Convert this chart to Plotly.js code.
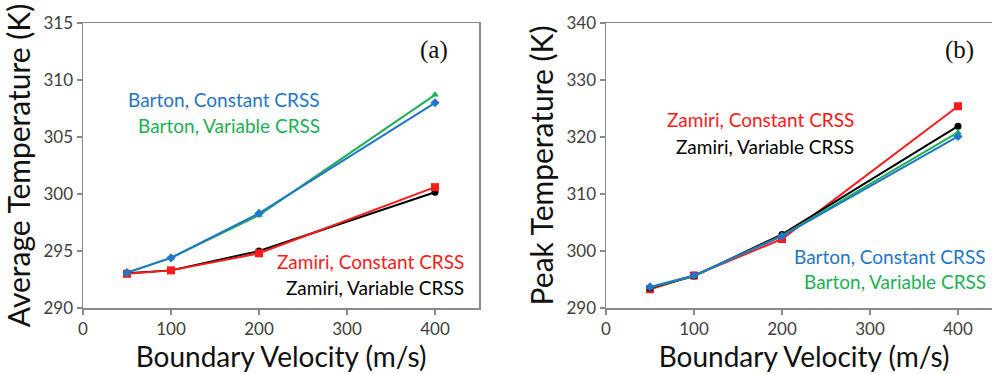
<!DOCTYPE html>
<html>
<head>
<meta charset="utf-8">
<script src="https://cdn.plot.ly/plotly-3.0.1.min.js"></script>
<style>
html,body{margin:0;padding:0;overflow:hidden;background:#fff;width:992px;height:374px;}
#chart{width:1010px;height:374px;}
</style>
</head>
<body>
<div id="chart"></div>
<script>
// Shared x values: boundary velocity (m/s)
const velocity = [50, 100, 200, 400];

// (a) Average temperature (K)
const avgBartonConst = [293.1, 294.4, 298.3, 308.0];
const avgBartonVar   = [293.1, 294.4, 298.15, 308.7];
const avgZamiriConst = [293.0, 293.3, 294.8, 300.6];
const avgZamiriVar   = [293.05, 293.3, 295.0, 300.15];

// (b) Peak temperature (K)
const peakBartonConst = [293.7, 295.7, 302.6, 320.1];
const peakBartonVar   = [293.6, 295.6, 302.7, 320.8];
const peakZamiriConst = [293.3, 295.7, 302.1, 325.4];
const peakZamiriVar   = [293.5, 295.6, 302.9, 321.9];

const seriesNames = ["Barton, Constant CRSS", "Barton, Variable CRSS", "Zamiri, Constant CRSS", "Zamiri, Variable CRSS"];
const seriesColors = ["#1F77C9", "#1DB154", "#FF1A1A", "#000000"];
const seriesSymbols = ["diamond", "triangle-up", "square", "circle"];

const xTicks = [0, 100, 200, 300, 400];
const yTicksA = [290, 295, 300, 305, 310, 315];
const yTicksB = [290, 300, 310, 320, 330, 340];

const W = 1010;
const font = "Lato, 'Open Sans', sans-serif";

function mk(y, i, xa, ya) {
  return {
    x: velocity, y: y, xaxis: xa, yaxis: ya, type: "scatter", mode: "lines+markers",
    name: seriesNames[i], showlegend: false,
    line: {color: seriesColors[i], width: 2},
    marker: {color: seriesColors[i], symbol: seriesSymbols[i], size: i === 2 ? 8 : 7}
  };
}

const traces = [
  mk(avgZamiriVar, 3, "x", "y"),
  mk(avgZamiriConst, 2, "x", "y"),
  mk(avgBartonVar, 1, "x", "y"),
  mk(avgBartonConst, 0, "x", "y"),
  mk(peakZamiriConst, 2, "x2", "y2"),
  mk(peakZamiriVar, 3, "x2", "y2"),
  mk(peakBartonVar, 1, "x2", "y2"),
  mk(peakBartonConst, 0, "x2", "y2")
];

const axisCommon = {
  showgrid: false, zeroline: false, showline: true, linecolor: "#8a8a8a", linewidth: 1.5,
  mirror: true, ticks: "outside", ticklen: 5, tickcolor: "#8a8a8a", tickwidth: 1.5,
  tickfont: {family: font, size: 17, color: "#404040"}
};

function xax(domain, anchor) {
  return Object.assign({}, axisCommon, {
    domain: domain, anchor: anchor, range: [0, 450], tickvals: xTicks, ticktext: xTicks.map(String),
    title: {text: "Boundary Velocity (m/s)", font: {family: font, size: 28, color: "#111"}, standoff: 4}
  });
}
function yax(domain, anchor, range, ticks, title) {
  return Object.assign({}, axisCommon, {
    domain: domain, anchor: anchor, range: range, tickvals: ticks, ticktext: ticks.map(String),
    title: {text: title, font: {family: font, size: 30, color: "#111"}, standoff: 4}
  });
}

function ann(xref, yref, x, y, text, color, xanchor, size, fam) {
  return {xref: xref, yref: yref, x: x, y: y, text: text, showarrow: false,
    xanchor: xanchor, yanchor: "middle",
    font: {family: fam || font, size: size || 19, color: color}};
}

const layout = {
  width: W, height: 374,
  margin: {l: 0, r: 0, t: 23, b: 66},
  paper_bgcolor: "#fff", plot_bgcolor: "#fff",
  xaxis: xax([83 / W, 479 / W], "y"),
  yaxis: yax([0, 1], "x", [290, 315], yTicksA, "Average Temperature (K)"),
  xaxis2: xax([606 / W, 1002 / W], "y2"),
  yaxis2: yax([0, 1], "x2", [290, 340], yTicksB, "Peak Temperature (K)"),
  annotations: [
    ann("x", "y", 272, 308.25, seriesNames[0], seriesColors[0], "right"),
    ann("x", "y", 272, 306.0, seriesNames[1], seriesColors[1], "right"),
    ann("x", "y", 435, 294.1, seriesNames[2], seriesColors[2], "right"),
    ann("x", "y", 435, 291.8, seriesNames[3], seriesColors[3], "right"),
    ann("x", "y", 417, 312.6, "(a)", "#111", "right", 25, "'Liberation Serif', serif"),
    ann("x2", "y2", 284, 323.0, seriesNames[2], seriesColors[2], "right"),
    ann("x2", "y2", 284, 318.4, seriesNames[3], seriesColors[3], "right"),
    ann("x2", "y2", 434, 299.1, seriesNames[0], seriesColors[0], "right"),
    ann("x2", "y2", 434, 294.6, seriesNames[1], seriesColors[1], "right"),
    ann("x2", "y2", 421, 335.3, "(b)", "#111", "right", 25, "'Liberation Serif', serif")
  ]
};

Plotly.newPlot("chart", traces, layout, {displayModeBar: false, staticPlot: true});
</script>
</body>
</html>
